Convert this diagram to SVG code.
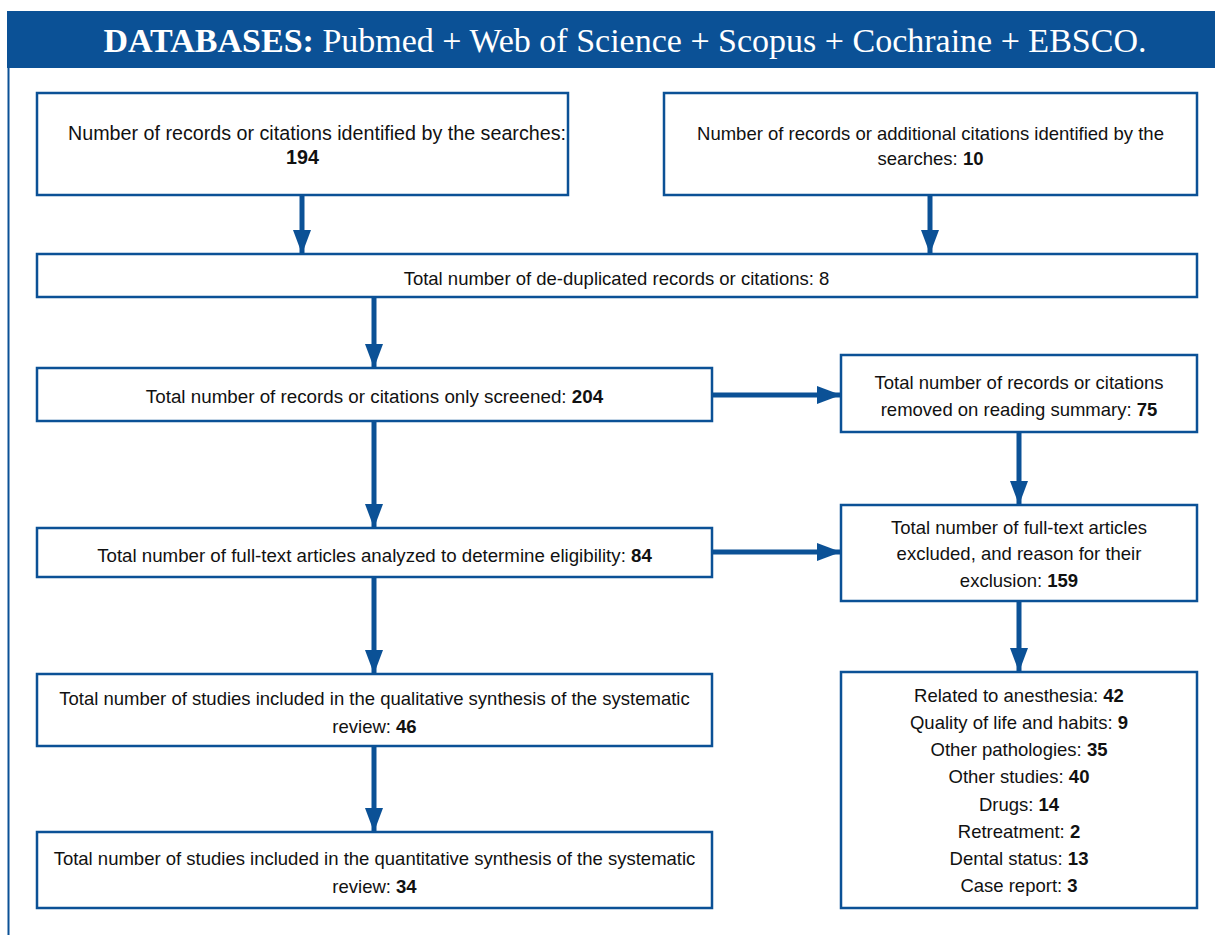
<svg xmlns="http://www.w3.org/2000/svg" width="1215" height="935" viewBox="0 0 1215 935">
<style>
.box{fill:#fff;stroke:#0b5196;stroke-width:2.5}
.t{font-family:"Liberation Sans",Arial,sans-serif;font-size:18.5px;fill:#111;text-anchor:middle}
.b{font-weight:bold}
.c{stroke:#0b5196;stroke-width:5;fill:none}
.hd{font-family:"Liberation Serif","Times New Roman",serif;font-size:34px;fill:#fff;text-anchor:middle}
</style>
<defs>
<marker id="ah" markerUnits="userSpaceOnUse" markerWidth="24" markerHeight="20" refX="24" refY="10" orient="auto">
<path d="M0,1 L24,10 L0,19 Z" fill="#0b5196"/>
</marker>
</defs>
<rect x="0" y="0" width="1215" height="935" fill="#fff"/>
<g id="frame">
<rect x="7" y="11" width="1208" height="57" fill="#0b5196"/>
<line x1="8.5" y1="68" x2="8.5" y2="935" stroke="#0b5196" stroke-width="2"/>
<text class="hd" x="625" y="52"><tspan font-weight="bold">DATABASES:</tspan> Pubmed + Web of Science + Scopus + Cochraine + EBSCO.</text>
</g>
<g id="connectors">
<line class="c" x1="302" y1="195" x2="302" y2="254" marker-end="url(#ah)"/>
<line class="c" x1="930" y1="195" x2="930" y2="254" marker-end="url(#ah)"/>
<line class="c" x1="374" y1="297" x2="374" y2="368" marker-end="url(#ah)"/>
<line class="c" x1="374" y1="421" x2="374" y2="528" marker-end="url(#ah)"/>
<line class="c" x1="1019" y1="432" x2="1019" y2="505" marker-end="url(#ah)"/>
<line class="c" x1="712" y1="395" x2="841" y2="395" marker-end="url(#ah)"/>
<line class="c" x1="712" y1="552" x2="841" y2="552" marker-end="url(#ah)"/>
<line class="c" x1="374" y1="577" x2="374" y2="674" marker-end="url(#ah)"/>
<line class="c" x1="1019" y1="601" x2="1019" y2="672" marker-end="url(#ah)"/>
<line class="c" x1="374" y1="746" x2="374" y2="832" marker-end="url(#ah)"/>
</g>
<g id="n1">
<rect class="box" x="37" y="93" width="531" height="102"/>
<text class="t" x="317" y="140" style="font-size:19.7px">Number of records or citations identified by the searches:</text>
<text class="t b" x="302.5" y="164" style="font-size:19.7px">194</text>
</g>
<g id="n2">
<rect class="box" x="664" y="93" width="533" height="102"/>
<text class="t" x="930.5" y="140">Number of records or additional citations identified by the</text>
<text class="t" x="930.5" y="165">searches: <tspan class="b">10</tspan></text>
</g>
<g id="n3">
<rect class="box" x="37" y="254" width="1160" height="43"/>
<text class="t" x="616.5" y="285">Total number of de-duplicated records or citations: 8</text>
</g>
<g id="n4">
<rect class="box" x="37" y="368" width="675" height="53"/>
<text class="t" x="374.5" y="403" style="font-size:18.8px">Total number of records or citations only screened: <tspan class="b">204</tspan></text>
</g>
<g id="n5">
<rect class="box" x="841" y="355" width="356" height="77"/>
<text class="t" x="1019" y="389">Total number of records or citations</text>
<text class="t" x="1019" y="416">removed on reading summary: <tspan class="b">75</tspan></text>
</g>
<g id="n6">
<rect class="box" x="37" y="528" width="675" height="49"/>
<text class="t" x="374.5" y="562" style="font-size:18.7px">Total number of full-text articles analyzed to determine eligibility: <tspan class="b">84</tspan></text>
</g>
<g id="n7">
<rect class="box" x="841" y="505" width="356" height="96"/>
<text class="t" x="1019" y="534">Total number of full-text articles</text>
<text class="t" x="1019" y="560">excluded, and reason for their</text>
<text class="t" x="1019" y="587">exclusion: <tspan class="b">159</tspan></text>
</g>
<g id="n8">
<rect class="box" x="37" y="674" width="675" height="72"/>
<text class="t" x="374.5" y="705">Total number of studies included in the qualitative synthesis of the systematic</text>
<text class="t" x="374.5" y="733">review: <tspan class="b">46</tspan></text>
</g>
<g id="n9">
<rect class="box" x="37" y="832" width="675" height="76"/>
<text class="t" x="374.5" y="865">Total number of studies included in the quantitative synthesis of the systematic</text>
<text class="t" x="374.5" y="893">review: <tspan class="b">34</tspan></text>
</g>
<g id="n10">
<rect class="box" x="841" y="672" width="356" height="236"/>
<text class="t" x="1019" y="702">Related to anesthesia: <tspan class="b">42</tspan></text>
<text class="t" x="1019" y="729">Quality of life and habits: <tspan class="b">9</tspan></text>
<text class="t" x="1019" y="756">Other pathologies: <tspan class="b">35</tspan></text>
<text class="t" x="1019" y="783">Other studies: <tspan class="b">40</tspan></text>
<text class="t" x="1019" y="811">Drugs: <tspan class="b">14</tspan></text>
<text class="t" x="1019" y="838">Retreatment: <tspan class="b">2</tspan></text>
<text class="t" x="1019" y="865">Dental status: <tspan class="b">13</tspan></text>
<text class="t" x="1019" y="892">Case report: <tspan class="b">3</tspan></text>
</g>
</svg>
